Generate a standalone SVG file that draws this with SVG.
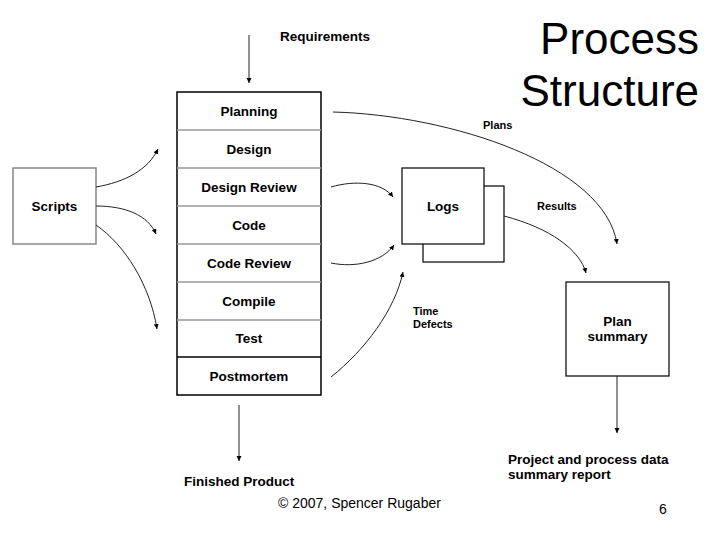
<svg xmlns="http://www.w3.org/2000/svg" width="720" height="540" viewBox="0 0 720 540">
<style>
text{font-family:"Liberation Sans",Arial,sans-serif;fill:#000}
.b{font-weight:bold;font-size:13.5px}
.s{font-weight:bold;font-size:11px}
.c{text-anchor:middle}
.title{font-size:44px;text-anchor:end}
.box{fill:#fff;stroke:#000;stroke-width:1.2}
.sep{stroke:#999;stroke-width:1.5}
.con{fill:none;stroke:#222;stroke-width:1;marker-end:url(#ah)}
</style>
<defs>
<marker id="ah" markerUnits="userSpaceOnUse" markerWidth="6" markerHeight="6" refX="5" refY="2.5" orient="auto">
<path d="M0,0 L5,2.5 L0,5 z" fill="#000"/>
</marker>
</defs>
<rect width="720" height="540" fill="#fff"/>
<g id="title">
<text class="title" x="699" y="54">Process</text>
<text class="title" x="699" y="106">Structure</text>
</g>
<g id="requirements"><text class="b" x="280" y="41">Requirements</text></g>
<g id="stack">
<rect x="177" y="92" width="144" height="303" fill="#fff" stroke="#000" stroke-width="1.5"/>
<line class="sep" x1="177" y1="130" x2="321" y2="130"/>
<line class="sep" x1="177" y1="168" x2="321" y2="168"/>
<line class="sep" x1="177" y1="206" x2="321" y2="206"/>
<line class="sep" x1="177" y1="244" x2="321" y2="244"/>
<line class="sep" x1="177" y1="282" x2="321" y2="282"/>
<line class="sep" x1="177" y1="320" x2="321" y2="320"/>
<line x1="177" y1="357" x2="321" y2="357" stroke="#000" stroke-width="1.5"/>
<text class="b c" x="249" y="115.5">Planning</text>
<text class="b c" x="249" y="153.5">Design</text>
<text class="b c" x="249" y="191.5">Design Review</text>
<text class="b c" x="249" y="229.5">Code</text>
<text class="b c" x="249" y="267.5">Code Review</text>
<text class="b c" x="249" y="305.5">Compile</text>
<text class="b c" x="249" y="343">Test</text>
<text class="b c" x="249" y="381">Postmortem</text>
</g>
<g id="scripts">
<rect x="13" y="168" width="83" height="76" fill="#fff" stroke="#888" stroke-width="1.5"/>
<text class="b c" x="54.5" y="210.5">Scripts</text>
</g>
<g id="logs">
<rect class="box" x="423" y="186" width="81" height="76"/>
<rect class="box" x="402" y="168" width="82" height="76"/>
<text class="b c" x="443" y="210.5">Logs</text>
</g>
<g id="plan-summary">
<rect class="box" x="566" y="282" width="103" height="94"/>
<text class="b c" x="617.5" y="326">Plan</text>
<text class="b c" x="617.5" y="340.5">summary</text>
</g>
<g id="finished-product"><text class="b" x="184" y="486">Finished Product</text></g>
<g id="report">
<text class="b" x="508" y="464">Project and process data</text>
<text class="b" x="508" y="479">summary report</text>
</g>
<g id="connectors">
<line class="con" x1="249" y1="35" x2="249" y2="83" stroke="#666"/>
<line class="con" x1="239" y1="405" x2="239" y2="461"/>
<line class="con" x1="617" y1="376" x2="617" y2="433"/>
<path class="con" d="M96,187 C125,182 148,170 158,149"/>
<path class="con" d="M96,206 C125,206 148,215 156,234"/>
<path class="con" d="M96,225 C125,245 150,285 157,329"/>
<path class="con" d="M331,187 C355,180 382,182 393,197"/>
<path class="con" d="M331,263 C355,268 382,262 394,245"/>
<path class="con" d="M331,377 C365,350 395,310 403,272"/>
<path class="con" d="M333,112 C450,115 605,165 617,244"/>
<path class="con" d="M504,216 C550,228 580,250 586,273"/>
<text class="s" x="483" y="129">Plans</text>
<text class="s" x="537" y="210">Results</text>
<text class="s" x="413" y="315">Time</text>
<text class="s" x="413" y="328">Defects</text>
</g>
<g id="footer">
<text x="278" y="508" font-size="14">© 2007, Spencer Rugaber</text>
<text x="659" y="514" font-size="14">6</text>
</g>
</svg>
